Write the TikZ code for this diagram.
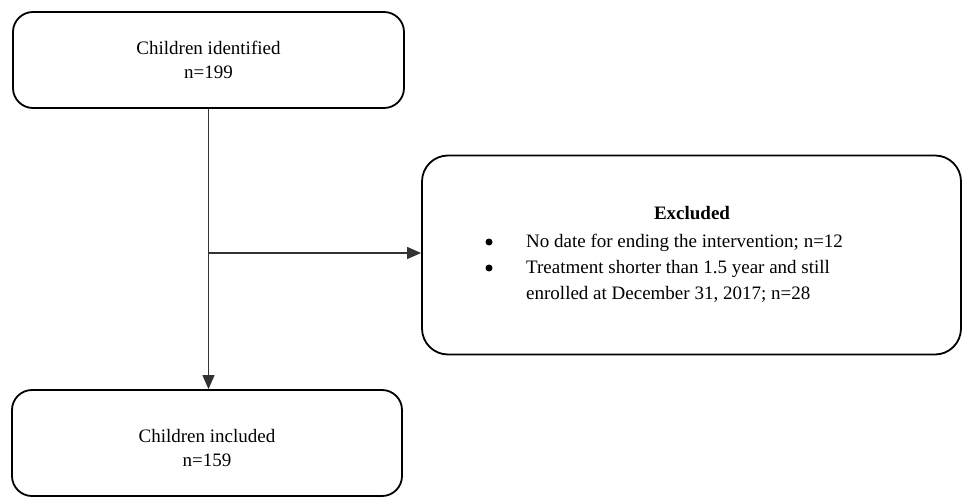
\documentclass[tikz,border=0pt]{standalone}
\usepackage{fontspec}
\setmainfont{Liberation Serif}
\usetikzlibrary{arrows.meta}
\begin{document}
\begin{tikzpicture}[x=1pt,y=-1pt,
  box/.style={draw=black, line width=1.8pt, rounded corners=20pt, inner sep=0pt},
  txt/.style={font=\fontsize{19}{24}\selectfont, align=center, inner sep=0pt},
  bul/.style={circle, fill=black, inner sep=0pt, minimum size=7pt},
  conn/.style={draw=black!80, line width=1.1pt},
  arr/.style={conn, -{Triangle[length=14pt,width=12pt]}}]
\useasboundingbox (0,0) rectangle (963,500);
% boxes
\node[box, minimum width=391pt, minimum height=96pt] (top) at (208.5,60) {};
\node[box, minimum width=390pt, minimum height=106pt] (bot) at (207,443) {};
\node[box, minimum width=539pt, minimum height=199pt, rounded corners=26pt] (excl) at (691.5,255) {};
% texts
\node[txt] (toptxt) at (208.5,60) {Children identified\\n=199};
\node[txt] (bottxt) at (207,448) {Children included\\n=159};
\node[txt, font=\fontsize{19}{24}\selectfont\bfseries] (exh) at (692,213) {Excluded};
\node[bul] (b1) at (489,242) {};
\node[bul] (b2) at (489,268) {};
\node[txt, anchor=base west] (l1) at (526,247) {No date for ending the intervention; n=12};
\node[txt, anchor=base west] (l2) at (526,273) {Treatment shorter than 1.5 year and still};
\node[txt, anchor=base west] (l3) at (526,299) {enrolled at December 31, 2017; n=28};
% connectors
\coordinate (j) at (top.south |- 0,253);
\draw[arr] (top.south) -- (top.south |- bot.north);
\draw[arr] (j) -- (j -| excl.west);
\end{tikzpicture}
\end{document}
